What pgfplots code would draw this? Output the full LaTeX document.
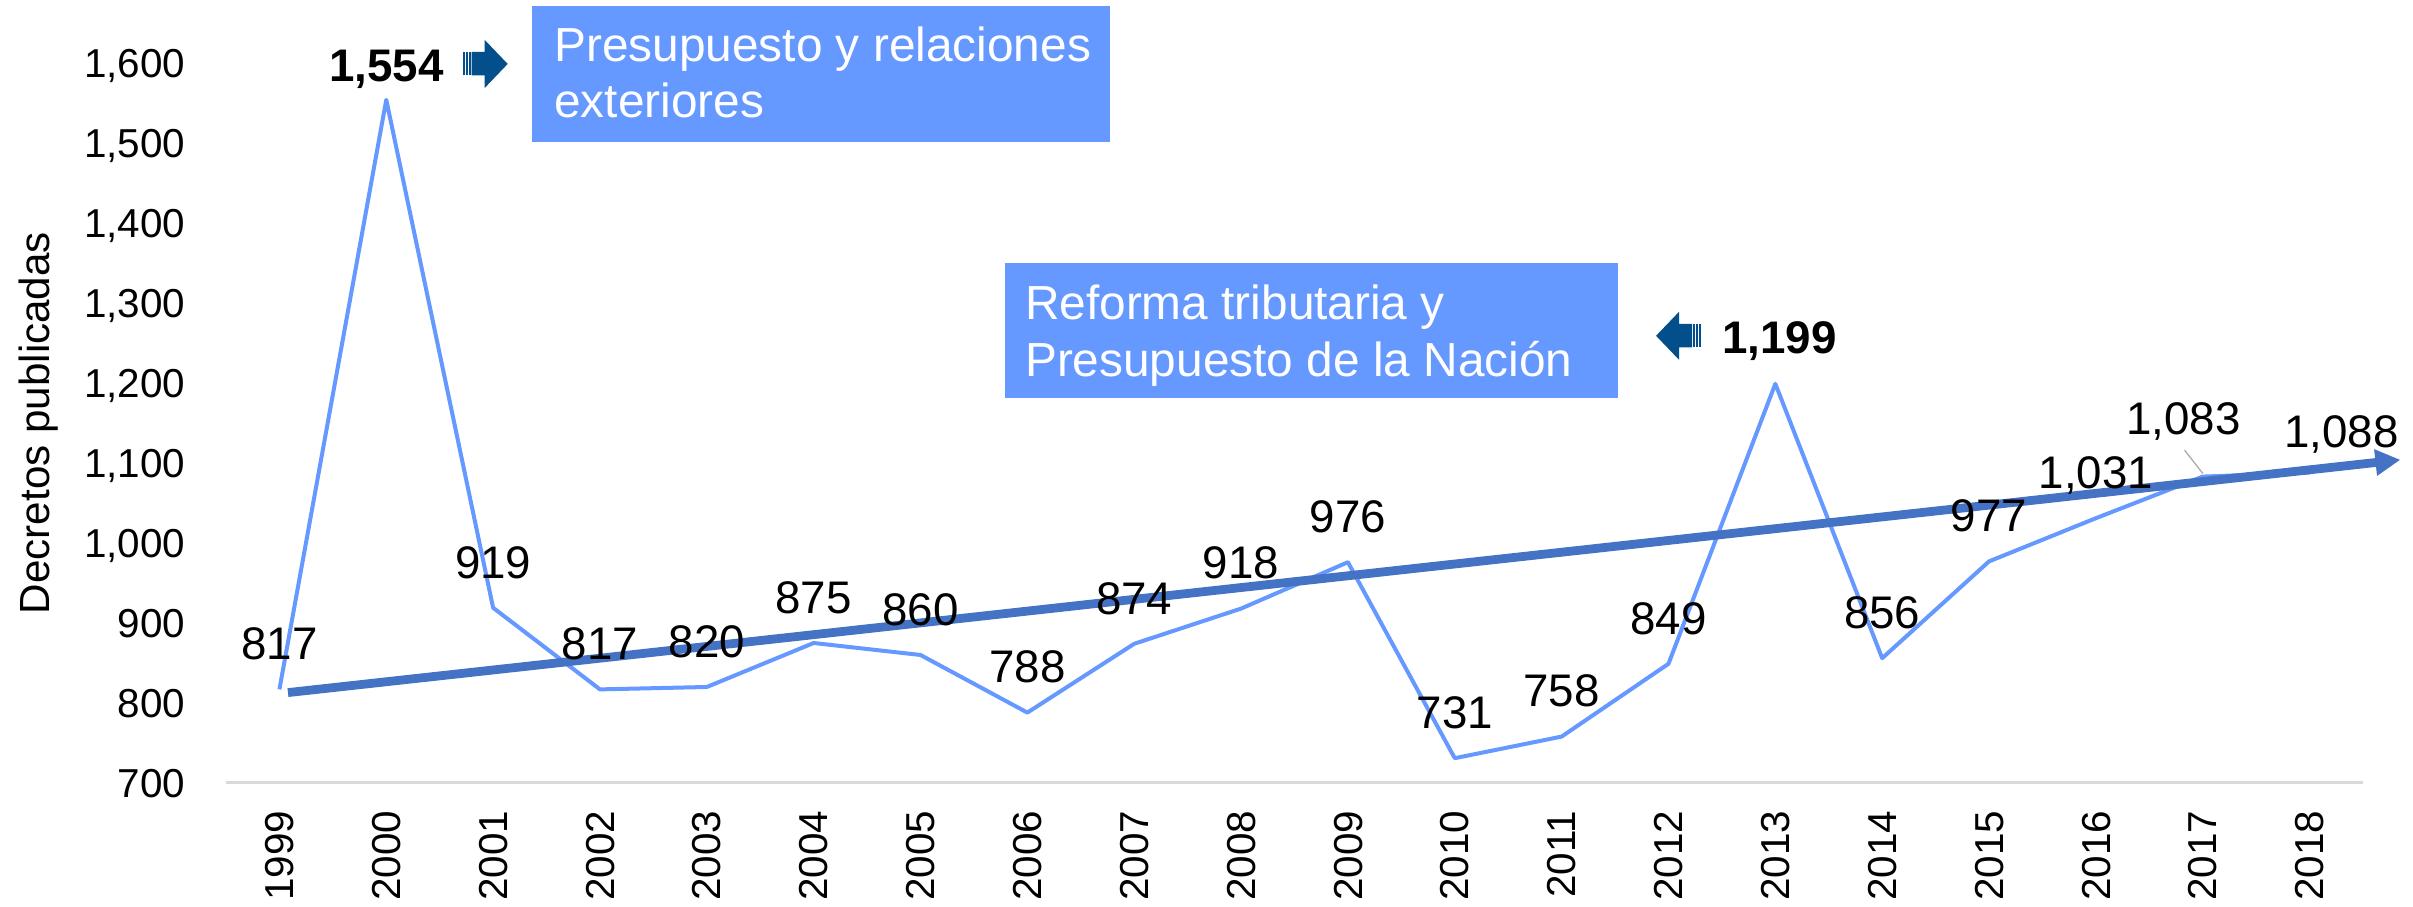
\documentclass[border=0pt]{standalone}
\usepackage{fontspec}
\setmainfont{Liberation Sans}
\usepackage{pgfplots}
\pgfplotsset{compat=1.18}
\usetikzlibrary{arrows.meta}
\definecolor{lineblue}{HTML}{6699FF}
\definecolor{trendblue}{HTML}{4472C4}
\definecolor{darkarrow}{HTML}{024F8C}
\definecolor{axisgray}{HTML}{D9D9D9}
\pgfplotstableread{
x y lab
0 817 817
1 1554 {}
2 919 919
3 817 817
4 820 820
5 875 875
6 860 860
7 788 788
8 874 874
9 918 918
10 976 976
11 731 731
12 758 758
13 849 849
14 1199 {}
15 856 856
16 977 977
17 1031 {1,031}
18 1083 {}
19 1088 {}
}\decretos
\usepackage{pgfplotstable}
\begin{document}
\begin{tikzpicture}
\path[use as bounding box] (-2.26cm,-1.24cm) rectangle (21.87cm,7.83cm);
\begin{axis}[
  at={(0,0)}, anchor=south west,
  scale only axis, width=21.37cm, height=7.2cm,
  xmin=-0.5, xmax=19.5, ymin=700, ymax=1600,
  clip=false,
  axis x line*=bottom, axis y line*=left,
  x axis line style={draw=axisgray, line width=0.03cm, -},
  y axis line style={draw=none},
  major tick length=0pt,
  xtick={0,...,19},
  xticklabels={1999,2000,2001,2002,2003,2004,2005,2006,2007,2008,2009,2010,2011,2012,2013,2014,2015,2016,2017,2018},
  ytick={700,800,...,1600},
  /pgf/number format/assume math mode=true,
  /pgf/number format/1000 sep={,},
  yticklabel style={font=\fontsize{11.5}{12}\selectfont, inner sep=0pt, text depth=0pt, anchor=east, xshift=-0.40cm},
  xticklabel style={font=\fontsize{11.5}{12}\selectfont, yshift=-0.27cm, rotate=90, anchor=east, inner sep=0pt, text depth=0pt},
  ylabel={Decretos publicadas},
  ylabel style={font=\fontsize{12}{12}\selectfont, at={(axis description cs:-0.0875,0.5)}, anchor=center},
]
% data labels first (so the lines are drawn over them)
\addplot[draw=none, mark=none,
  nodes near coords, point meta=explicit symbolic,
  every node near coord/.style={font=\fontsize{13}{13}\selectfont, text=black, inner sep=0pt, text depth=0pt, anchor=south, yshift=0.29cm}]
  table[x=x, y=y, meta=lab] {\decretos};
\addplot[lineblue, line width=0.04cm, line join=round, mark=none]
  table[x=x, y=y] {\decretos};
\addplot[trendblue, line width=0.088cm, -{Triangle[length=0.25cm,width=0.25cm]}] coordinates {(0.08,813) (19.85,1104)};
\node[font=\bfseries\fontsize{13}{13}\selectfont, anchor=base, inner sep=0pt] at (axis cs:1,1577) {1,554};
\node[font=\bfseries\fontsize{13}{13}\selectfont, anchor=base, inner sep=0pt] at (axis cs:14.04,1237) {1,199};
\node[font=\fontsize{13}{13}\selectfont, anchor=base, inner sep=0pt] at (axis cs:17.82,1135) {1,083};
\node[font=\fontsize{13}{13}\selectfont, anchor=base, inner sep=0pt] at (axis cs:19.30,1119) {1,088};
\draw[black!35, line width=0.012cm] (axis cs:17.83,1116) -- (axis cs:18,1087);
\end{axis}
\begin{scope}[shift={(-2.26cm,7.83cm)}, x=0.01cm, y=-0.01cm]
  \fill[lineblue] (532,6) rectangle (1111,142);
  \node[anchor=base west, inner sep=0pt, text=white, font=\fontsize{13.6}{16}\selectfont] at (554,62) {Presupuesto y relaciones};
  \node[anchor=base west, inner sep=0pt, text=white, font=\fontsize{13.6}{16}\selectfont] at (554,118) {exteriores};
  \fill[lineblue] (1006,263) rectangle (1619,398);
  \node[anchor=base west, inner sep=0pt, text=white, font=\fontsize{13.6}{16}\selectfont] at (1025,320) {Reforma tributaria y};
  \node[anchor=base west, inner sep=0pt, text=white, font=\fontsize{13.6}{16}\selectfont] at (1025,377) {Presupuesto de la Nación};
  % right-pointing striped arrow
  \fill[darkarrow] (463,52) rectangle (465.5,75.5);
  \fill[darkarrow] (466.5,52) rectangle (468.5,75.5);
  \fill[darkarrow] (469.5,52) rectangle (471,75.5);
  \fill[darkarrow] (472,52) -- (485,52) -- (485,40) -- (508,64) -- (485,88) -- (485,75.5) -- (472,75.5) -- cycle;
  % left-pointing striped arrow
  \fill[darkarrow] (1702,324) rectangle (1699.5,347.5);
  \fill[darkarrow] (1698.5,324) rectangle (1696.5,347.5);
  \fill[darkarrow] (1695.5,324) rectangle (1694,347.5);
  \fill[darkarrow] (1693,324) -- (1680,324) -- (1680,312) -- (1657,336) -- (1680,360) -- (1680,347.5) -- (1693,347.5) -- cycle;
\end{scope}
\end{tikzpicture}
\end{document}
